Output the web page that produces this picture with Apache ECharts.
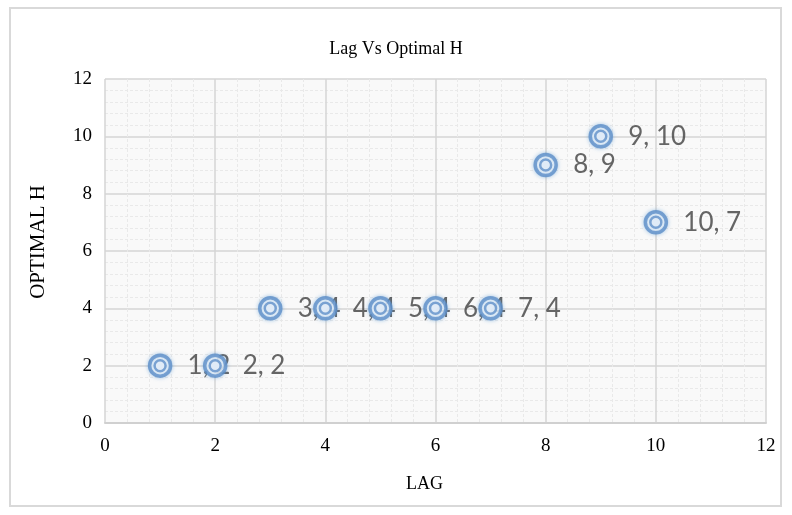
<!DOCTYPE html>
<html><head><meta charset="utf-8">
<script src="https://cdn.jsdelivr.net/npm/echarts@6/dist/echarts.min.js"></script>
<style>html,body{margin:0;padding:0;background:#fff}#c{width:792px;height:515px}</style>
</head><body><div id="c"></div>
<script>
const lagValues = [1, 2, 3, 4, 5, 6, 7, 8, 9, 10];
const optimalH = [2, 2, 4, 4, 4, 4, 4, 9, 10, 7];
const xTicks = [0, 2, 4, 6, 8, 10, 12];
const yTicks = [0, 2, 4, 6, 8, 10, 12];

const pts = lagValues.map((x, i) => [x, optimalH[i]]);
const serif = '"Liberation Serif","Times New Roman",serif';
const chart = echarts.init(document.getElementById('c'));
chart.setOption({
  animation: false,
  backgroundColor: '#fff',
  graphic: [{type:'rect', shape:{x:10,y:8,width:771,height:498}, style:{fill:'none', stroke:'#d9d9d9', lineWidth:2}, z:-1}],
  title: {text:'Lag Vs Optimal H', left:'center', top:35, textStyle:{fontFamily:serif, fontSize:18, fontWeight:'normal', color:'#000'}},
  grid: {left:105, right:26, top:79, bottom:92, show:true, backgroundColor:'#f9f9f9', borderWidth:0},
  xAxis: {type:'value', min:xTicks[0], max:xTicks[xTicks.length-1], interval:2,
    name:'LAG', nameLocation:'middle', nameGap:52, nameTextStyle:{fontFamily:serif, fontSize:18, color:'#000', padding:[0,22,0,0]},
    axisLine:{show:true, lineStyle:{color:'#d0d0d0', width:2}}, axisTick:{show:false},
    axisLabel:{fontFamily:serif, fontSize:19, color:'#000', margin:14},
    splitLine:{show:true, lineStyle:{color:'#d4d4d4', width:1.5}},
    minorTick:{show:false, splitNumber:5},
    minorSplitLine:{show:true, lineStyle:{color:'#e9e9e9', width:1, type:[3,2]}}},
  yAxis: {type:'value', min:yTicks[0], max:yTicks[yTicks.length-1], interval:2,
    name:'OPTIMAL H', nameLocation:'middle', nameGap:56, nameRotate:90, nameTextStyle:{fontFamily:serif, fontSize:21, color:'#000', padding:[0,0,0,18]},
    axisLine:{show:false}, axisTick:{show:false},
    axisLabel:{fontFamily:serif, fontSize:19, color:'#000', margin:13},
    splitLine:{show:true, lineStyle:{color:'#d4d4d4', width:1.5}},
    minorTick:{show:false, splitNumber:5},
    minorSplitLine:{show:true, lineStyle:{color:'#e9e9e9', width:1, type:[3,2]}}},
  series: [
    {type:'scatter', data:pts, symbol:'circle', symbolSize:21, z:1, silent:true,
     itemStyle:{color:'rgba(0,0,0,0)', borderWidth:0},
     label:{show:true, position:'right', distance:17, formatter:p=>p.value[0]+', '+p.value[1],
       fontFamily:'Lato, "Open Sans", sans-serif', fontSize:26, color:'#404040'}},
    {type:'scatter', data:pts, symbol:'circle', symbolSize:21, z:2,
     itemStyle:{color:'#ffffff', borderColor:'#5e8fc8', borderWidth:3.5, shadowBlur:4, shadowColor:'rgba(91,155,213,0.55)'}},
    {type:'scatter', data:pts, symbol:'circle', symbolSize:11, z:3, silent:true,
     itemStyle:{color:'#dce9f6', borderColor:'#5e8fc8', borderWidth:2.5}}
  ]
});
</script></body></html>
